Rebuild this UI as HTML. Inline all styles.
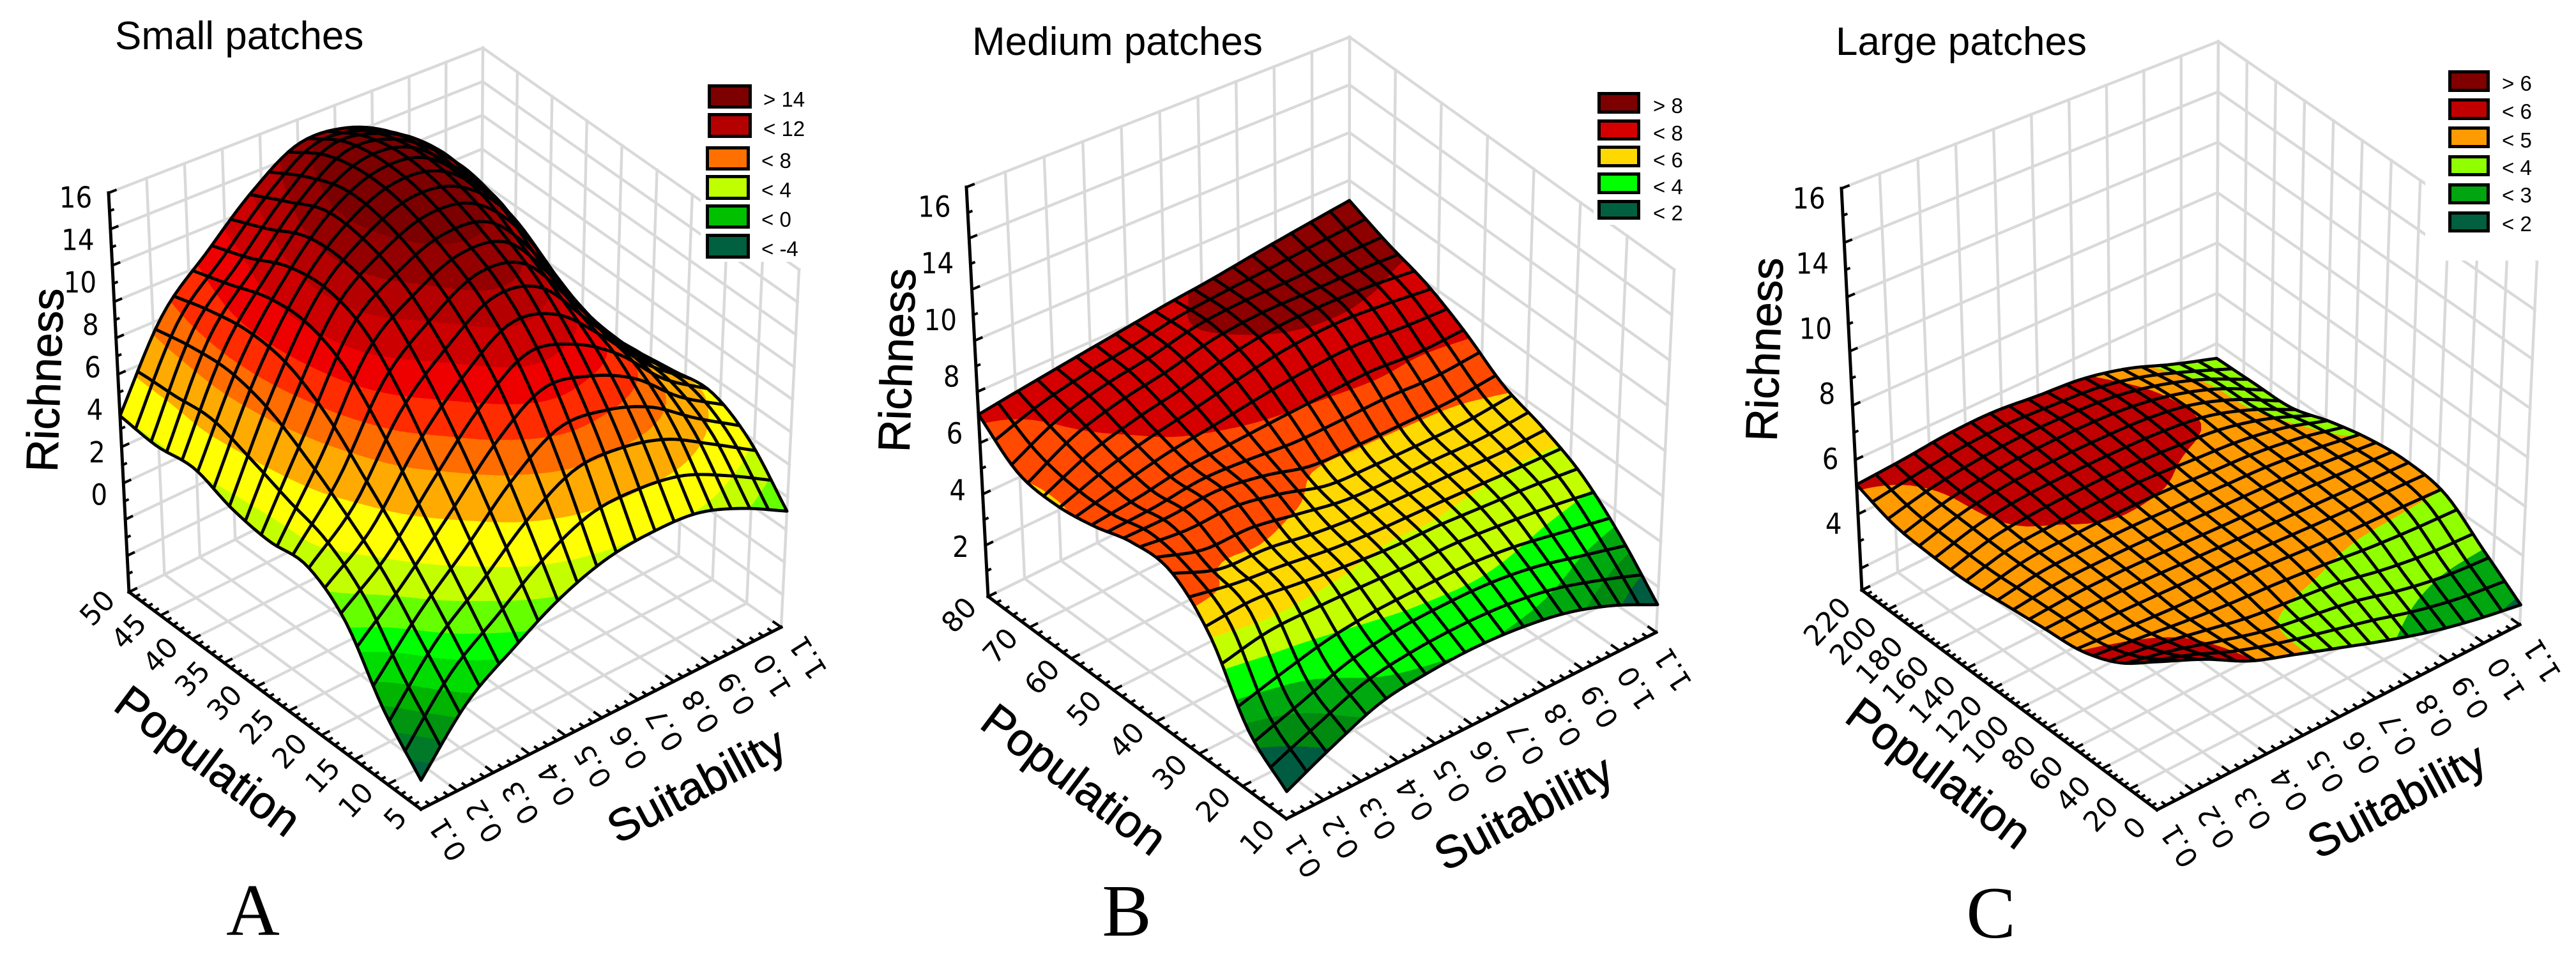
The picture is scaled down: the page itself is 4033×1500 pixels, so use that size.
<!DOCTYPE html>
<html lang="en">
<head>
<meta charset="utf-8">
<title>Richness surfaces by patch size</title>
<style>
html,body{margin:0;padding:0;background:#fff;width:4033px;height:1500px;overflow:hidden}
svg{display:block}
.title{font-family:"Liberation Sans",sans-serif;font-size:62px;fill:#000}
.axt{font-family:"Liberation Sans",sans-serif;font-size:72px;fill:#000;text-anchor:middle;stroke:#000;stroke-width:.8}
.leg{font-family:"Liberation Sans",sans-serif;font-size:33px;fill:#000}
.let{font-family:"Liberation Serif",serif;font-size:116px;fill:#000;text-anchor:middle}
.sw{stroke:#000;stroke-width:5}
</style>
</head>
<body>
<svg id="chart" xmlns="http://www.w3.org/2000/svg" width="4033" height="1500" viewBox="0 0 4033 1500">
<rect width="4033" height="1500" fill="#fff"/>
<g id="panelA"></g>
<g id="panelB"></g>
<g id="panelC"></g>

<text class="title" x="180" y="77">Small patches</text>
<text class="title" x="1522" y="86">Medium patches</text>
<text class="title" x="2874" y="86">Large patches</text>

<text class="axt" transform="translate(70,595) rotate(-88)" dy=".35em" style="font-size:70px">Richness</text>
<text class="axt" transform="translate(326,1191) rotate(36.7)" dy=".35em">Population</text>
<text class="axt" transform="translate(1090,1229) rotate(-28)" dy=".35em" style="font-size:71px">Suitability</text>
<text class="axt" transform="translate(1404,564) rotate(-88)" dy=".35em" style="font-size:70px">Richness</text>
<text class="axt" transform="translate(1682,1220) rotate(37)" dy=".35em">Population</text>
<text class="axt" transform="translate(2385,1272) rotate(-28)" dy=".35em" style="font-size:71px">Suitability</text>
<text class="axt" transform="translate(2762,547) rotate(-88)" dy=".35em" style="font-size:70px">Richness</text>
<text class="axt" transform="translate(3036,1210) rotate(37)" dy=".35em">Population</text>
<text class="axt" transform="translate(3752,1253) rotate(-28)" dy=".35em" style="font-size:71px">Suitability</text>

<g>
<rect x="1097" y="100" width="205" height="310" fill="#fff"/>
<rect class="sw" x="1110.5" y="134.5" width="64" height="33" fill="#7c0000"/>
<rect class="sw" x="1110.5" y="179.5" width="64" height="34" fill="#b40000"/>
<rect class="sw" x="1107.5" y="231.5" width="64" height="33" fill="#ff7000"/>
<rect class="sw" x="1107.5" y="276.5" width="64" height="34" fill="#c0ff00"/>
<rect class="sw" x="1107.5" y="322.5" width="64" height="33" fill="#00c000"/>
<rect class="sw" x="1107.5" y="368.5" width="64" height="34" fill="#006040"/>
<text class="leg" x="1195" y="167">&gt; 14</text>
<text class="leg" x="1195" y="213">&lt; 12</text>
<text class="leg" x="1192" y="263">&lt; 8</text>
<text class="leg" x="1192" y="309">&lt; 4</text>
<text class="leg" x="1192" y="355">&lt; 0</text>
<text class="leg" x="1192" y="401">&lt; -4</text>
</g>

<g>
<rect x="2495" y="110" width="165" height="242" fill="#fff"/>
<rect class="sw" x="2503.5" y="146.5" width="62" height="29" fill="#7c0000"/>
<rect class="sw" x="2503.5" y="189.5" width="62" height="28" fill="#d40000"/>
<rect class="sw" x="2503.5" y="230.5" width="62" height="29" fill="#ffd800"/>
<rect class="sw" x="2503.5" y="272.5" width="62" height="29" fill="#00ff00"/>
<rect class="sw" x="2503.5" y="315.5" width="62" height="26" fill="#006040"/>
<text class="leg" x="2588" y="177">&gt; 8</text>
<text class="leg" x="2588" y="220">&lt; 8</text>
<text class="leg" x="2588" y="262">&lt; 6</text>
<text class="leg" x="2588" y="304">&lt; 4</text>
<text class="leg" x="2588" y="345">&lt; 2</text>
</g>

<g>
<rect x="3797" y="0" width="236" height="408" fill="#fff"/>
<rect class="sw" x="3835.5" y="112.5" width="60" height="29" fill="#800000"/>
<rect class="sw" x="3835.5" y="156.5" width="60" height="29" fill="#c00000"/>
<rect class="sw" x="3835.5" y="200.5" width="60" height="29" fill="#ff9a00"/>
<rect class="sw" x="3835.5" y="245.5" width="60" height="28" fill="#90ff00"/>
<rect class="sw" x="3835.5" y="289.5" width="60" height="28" fill="#00a510"/>
<rect class="sw" x="3835.5" y="333.5" width="60" height="28" fill="#006040"/>
<text class="leg" x="3917" y="142">&gt; 6</text>
<text class="leg" x="3917" y="186">&lt; 6</text>
<text class="leg" x="3917" y="231">&lt; 5</text>
<text class="leg" x="3917" y="274">&lt; 4</text>
<text class="leg" x="3917" y="317">&lt; 3</text>
<text class="leg" x="3917" y="362">&lt; 2</text>
</g>

<text class="let" x="396" y="1464">A</text>
<text class="let" x="1764" y="1465">B</text>
<text class="let" x="3117" y="1468">C</text>
</svg>

<script>
/* ---------- chart data ---------- */
const suitabilityTicks = [0.1,0.2,0.3,0.4,0.5,0.6,0.7,0.8,0.9,1.0,1.1];

const smallPopulationTicks = [5,10,15,20,25,30,35,40,45,50];
const mediumPopulationTicks = [10,20,30,40,50,60,70,80];
const largePopulationTicks = [0,20,40,60,80,100,120,140,160,180,200,220];

/* plotted height of each printed richness label (the printed axis skips 12) */
const smallRichnessTickValues = [14,12,10,8,6,4,2,0];
const smallRichnessTickLabels = ["16","14","10","8","6","4","2","0"];
const mediumRichnessTickValues = [14,12,10,8,6,4,2];
const mediumRichnessTickLabels = ["16","14","10","8","6","4","2"];
const largeRichnessTickValues = [14,12,10,8,6,4];
const largeRichnessTickLabels = ["16","14","10","8","6","4"];

/* richness at 9 x 9 sampled surface positions.
   rows: population low -> high, columns: suitability low -> high */
const smallRichness = [
 [-3.2,-0.5, 1.1, 2.5, 3.4, 3.7, 3.6, 2.75,1.5],
 [-1.1, 1.6, 3.6, 5.8, 7.3, 7.3, 6.6, 5.2, 3.76],
 [ 1.8, 3.6, 6.2, 8.8,10.5,10.0, 8.6, 6.4, 4.87],
 [ 3.1, 5.2, 8.8,11.0,12.5,12.0, 9.4, 6.7, 4.6],
 [ 2.95,6.7,10.8,12.6,13.6,13.2,10.5, 6.9, 4.28],
 [ 3.2, 7.8,11.5,13.4,14.4,14.0,11.9, 8.0, 4.05],
 [ 3.8, 8.2,11.2,13.5,14.6,14.3,12.2, 9.3, 4.97],
 [ 3.55,8.0,10.3,12.6,14.2,13.9,12.5, 9.9, 5.9],
 [ 3.7, 7.5, 9.6,11.6,13.0,12.9,11.8, 9.7, 6.9]
];
const mediumRichness = [
 [1.24,2.1,2.84,3.1,3.2,3.1,2.8,2.2,1.34],
 [2.44,3.0,3.6,3.9,4.0,4.0,3.8,3.4,3.0],
 [4.87,5.1,4.95,4.8,4.7,4.7,4.6,4.5,4.3],
 [6.14,5.5,5.45,5.2,5.05,5.0,5.0,4.95,5.05],
 [6.14,6.1,6.2,5.9,5.4,5.35,5.35,5.4,5.6],
 [5.7,5.9,6.2,6.3,6.4,6.5,6.6,6.5,6.6],
 [5.45,6.1,6.55,6.9,7.3,7.6,7.7,7.6,7.4],
 [5.6,6.5,7.0,7.3,7.7,7.85,7.85,7.9,7.9],
 [6.66,6.9,7.13,7.36,7.6,7.8,8.05,8.28,8.5]
];
const largeRichness = [
 [6.56,5.95,5.2,4.7,4.2,3.7,3.25,2.9,2.63],
 [5.65,5.4,5.05,4.7,4.5,4.3,3.95,3.7,3.6],
 [5.15,5.05,4.95,4.9,4.85,4.75,4.65,4.6,4.55],
 [5.0,5.05,5.05,5.0,4.95,4.9,4.85,4.8,4.75],
 [4.85,5.05,5.1,5.1,5.05,5.0,4.95,4.8,4.62],
 [4.7,5.05,5.15,5.2,5.2,5.1,5.0,4.75,4.3],
 [4.7,5.1,5.3,5.35,5.35,5.3,5.1,4.6,3.88],
 [4.8,5.15,5.35,5.45,5.45,5.35,5.05,4.55,3.83],
 [5.2,5.3,5.44,5.47,5.33,5.2,4.85,4.3,3.8]
];

/* colour bands: upper limit of each band, then its colour */
const smallBandLimits = [-2.6,-1.8,-1.0,-0.2,0.8,1.6,2.6,3.7,5.2,6.8,8.0,9.2,10.4,11.6,12.6,13.6,99];
const smallBandColors = ["#006640","#007a28","#009410","#00b400","#00dc00","#00ff00","#66ff00","#c4ff00","#ffff00","#ffaa00","#ff6c00","#ff2c00","#ee0000","#cc0000","#b40000","#940000","#7c0000"];
const mediumBandLimits = [2.05,2.6,3.2,4.0,4.8,5.5,6.5,7.7,99];
const mediumBandColors = ["#005c40","#008a10","#00a810","#00ff00","#c4ff00","#ffd800","#ff4a00","#d40000","#8c0000"];
const largeBandLimits = [2.75,3.6,4.6,5.15,99];
const largeBandColors = ["#006040","#00a510","#90ff00","#ff9a00","#c00000"];

/* ---------- drawing ---------- */
const NS = "http://www.w3.org/2000/svg";
const panels = [
 {id:"panelA",name:"small",grid:smallRichness,limits:smallBandLimits,colors:smallBandColors,popTicks:smallPopulationTicks,
  zVals:smallRichnessTickValues,zLabels:smallRichnessTickLabels,zMin:-4.6,zMax:14.2,zSteps:11,cellsU:19,cellsV:19,
  floor:[[659,1267],[1223,982],[752,655],[202,927]],top:[[662,660],[1251,422],[756,75],[170,302]],
  popOff:[-31,4],suitOff:[23,18]},
 {id:"panelB",name:"medium",grid:mediumRichness,limits:mediumBandLimits,colors:mediumBandColors,popTicks:mediumPopulationTicks,
  zVals:mediumRichnessTickValues,zLabels:mediumRichnessTickLabels,zMin:0.24,zMax:14.68,zSteps:8,cellsU:19,cellsV:19,
  floor:[[2014,1282],[2593,990],[2112,656],[1547,934]],top:[[2021,667],[2621,422],[2113,58],[1513,293]],
  popOff:[-27,8],suitOff:[7,29]},
 {id:"panelC",name:"large",grid:largeRichness,limits:largeBandLimits,colors:largeBandColors,popTicks:largePopulationTicks,
  zVals:largeRichnessTickValues,zLabels:largeRichnessTickLabels,zMin:1.96,zMax:14.3,zSteps:7.4,cellsU:19,cellsV:19,
  floor:[[3377,1268],[3945,978],[3470,648],[2915,924]],top:[[3383,646],[3972,408],[3473,65],[2883,295]],
  popOff:[-26,18],suitOff:[16,27]}
];

function quadMap(q){
  const [p0,p1,p2,p3]=q;
  const sx=p0[0]-p1[0]+p2[0]-p3[0], sy=p0[1]-p1[1]+p2[1]-p3[1];
  const dx1=p1[0]-p2[0], dx2=p3[0]-p2[0], dy1=p1[1]-p2[1], dy2=p3[1]-p2[1];
  const den=dx1*dy2-dx2*dy1;
  const g=(sx*dy2-dx2*sy)/den, h=(dx1*sy-sx*dy1)/den;
  const a=p1[0]-p0[0]+g*p1[0], b=p3[0]-p0[0]+h*p3[0], c=p0[0];
  const d=p1[1]-p0[1]+g*p1[1], e=p3[1]-p0[1]+h*p3[1], f=p0[1];
  return (u,v)=>{const w=g*u+h*v+1;return [(a*u+b*v+c)/w,(d*u+e*v+f)/w];};
}
function cr(p0,p1,p2,p3,t){
  return 0.5*(2*p1+(p2-p0)*t+(2*p0-5*p1+4*p2-p3)*t*t+(3*p1-p0-3*p2+p3)*t*t*t);
}
function gridAt(G,i,j){
  const n=G.length-1,m=G[0].length-1;
  const ci=Math.max(0,Math.min(m,i)),cj=Math.max(0,Math.min(n,j));
  let val=G[cj][ci];
  if(i<0) val=2*G[cj][0]-G[cj][1];
  if(i>m) val=2*G[cj][m]-G[cj][m-1];
  if(j<0) val=2*G[0][ci]-G[1][ci];
  if(j>n) val=2*G[n][ci]-G[n-1][ci];
  return val;
}
function surfaceZ(G,u,v){
  const m=G[0].length-1,n=G.length-1;
  const fu=Math.min(u*m,m-1e-6),fv=Math.min(v*n,n-1e-6);
  const i=Math.floor(fu),j=Math.floor(fv),tu=fu-i,tv=fv-j;
  const rows=[];
  for(let b=-1;b<=2;b++){
    rows.push(cr(gridAt(G,i-1,j+b),gridAt(G,i,j+b),gridAt(G,i+1,j+b),gridAt(G,i+2,j+b),tu));
  }
  return cr(rows[0],rows[1],rows[2],rows[3],tv);
}
function clipZ(poly,level,keepAbove){
  const out=[];
  for(let i=0;i<poly.length;i++){
    const a=poly[i],b=poly[(i+1)%poly.length];
    const ina=keepAbove?a[2]>=level:a[2]<=level;
    const inb=keepAbove?b[2]>=level:b[2]<=level;
    if(ina) out.push(a);
    if(ina!==inb){
      const t=(level-a[2])/(b[2]-a[2]);
      out.push([a[0]+(b[0]-a[0])*t,a[1]+(b[1]-a[1])*t,level]);
    }
  }
  return out;
}
function line(parent,a,b,color,width){
  const l=document.createElementNS(NS,"line");
  l.setAttribute("x1",a[0].toFixed(1));
  l.setAttribute("y1",a[1].toFixed(1));
  l.setAttribute("x2",b[0].toFixed(1));
  l.setAttribute("y2",b[1].toFixed(1));
  l.setAttribute("stroke",color);
  l.setAttribute("stroke-width",width);
  l.setAttribute("stroke-linecap","square");
  parent.appendChild(l);
  return l;
}
function label(parent,txt,x,y,rot,size,sx){
  const t=document.createElementNS(NS,"text");
  t.textContent=txt;
  t.setAttribute("transform","translate("+x.toFixed(1)+","+y.toFixed(1)+") rotate("+rot+") scale("+sx+",1)");
  t.setAttribute("text-anchor","end");
  t.setAttribute("dy",".36em");
  t.setAttribute("font-family",'"DejaVu Sans",sans-serif');
  t.setAttribute("font-size",size);
  t.setAttribute("fill","#000");
  parent.appendChild(t);
  return t;
}
function drawPanel(p){
  const root=document.getElementById(p.id);
  const fl=quadMap(p.floor), tp=quadMap(p.top);
  const wOf=z=>(z-p.zMin)/(p.zMax-p.zMin);
  const proj=(u,v,w)=>{const a=fl(u,v),b=tp(u,v);return [a[0]+(b[0]-a[0])*w,a[1]+(b[1]-a[1])*w];};
  const popMin=p.popTicks[0],popMax=p.popTicks[p.popTicks.length-1];
  const uOf=s=>(s-suitabilityTicks[0])/(suitabilityTicks[suitabilityTicks.length-1]-suitabilityTicks[0]);
  const vOf=q=>(q-popMin)/(popMax-popMin);
  const GR="#d9d9d9",GW=4.4;

  /* grid walls and floor */
  const walls=document.createElementNS(NS,"g");
  
  
  root.appendChild(walls);
  const zFracs=[];
  for(let k=0;k<=Math.floor(p.zSteps);k++) zFracs.push(1-k/p.zSteps);
  if(zFracs[zFracs.length-1]>0.001) zFracs.push(0);
  zFracs.forEach(w=>{
    line(walls,proj(0,1,w),proj(1,1,w),GR,GW);
    line(walls,proj(1,1,w),proj(1,0,w),GR,GW);
  });
  suitabilityTicks.forEach(s=>{
    const u=uOf(s);
    line(walls,proj(u,1,0),proj(u,1,1),GR,GW);
    line(walls,proj(u,0,0),proj(u,1,0),GR,GW);
  });
  p.popTicks.forEach(q=>{
    const v=vOf(q);
    line(walls,proj(1,v,0),proj(1,v,1),GR,GW);
    line(walls,proj(0,v,0),proj(1,v,0),GR,GW);
  });

  /* axes */
  const axes=document.createElementNS(NS,"g");
  
  
  root.appendChild(axes);
  line(axes,proj(0,1,0),proj(0,1,1),"#000",5);
  line(axes,proj(0,1,0),proj(0,0,0),"#000",5);
  line(axes,proj(0,0,0),proj(1,0,0),"#000",5);
  zFracs.forEach((w,k)=>{
    line(axes,proj(0,1,w),proj(0.018,1,w),"#000",4);
    const w2=w-0.5/p.zSteps;
    if(w2>0) line(axes,proj(0,1,w2),proj(0.009,1,w2),"#000",4);
  });
  p.popTicks.forEach((q,i)=>{
    const v=vOf(q);
    line(axes,proj(0,v,0),proj(0.02,v,0),"#000",4);
    if(i<p.popTicks.length-1){
      const dv=(vOf(p.popTicks[i+1])-v)/5;
      for(let m=1;m<5;m++) line(axes,proj(0,v+m*dv,0),proj(0.01,v+m*dv,0),"#000",4);
    }
  });
  suitabilityTicks.forEach((s,i)=>{
    const u=uOf(s);
    line(axes,proj(u,0,0),proj(u,0.024,0),"#000",4);
    if(i<suitabilityTicks.length-1){
      const du=(uOf(suitabilityTicks[i+1])-u)/4;
      for(let m=1;m<4;m++) line(axes,proj(u+m*du,0,0),proj(u+m*du,0.012,0),"#000",4);
    }
  });

  /* tick labels */
  const labs=document.createElementNS(NS,"g");
  
  
  root.appendChild(labs);
  p.zVals.forEach((z,i)=>{
    const a=proj(0,1,wOf(z));
    const t=label(labs,p.zLabels[i],a[0]-26,a[1],0,45,0.9);
    
    
  });
  p.popTicks.forEach(q=>{
    const a=proj(0,vOf(q),0);
    const t=label(labs,String(q),a[0]+p.popOff[0],a[1]+p.popOff[1],-47,44,1);
    
    
  });
  suitabilityTicks.forEach(s=>{
    const a=proj(uOf(s),0,0);
    const t=label(labs,s.toFixed(1),a[0]+p.suitOff[0],a[1]+p.suitOff[1],-122,44,1);
    
    
  });

  /* surface: painted far corner to near corner */
  const surf=document.createElementNS(NS,"g");
  
  
  root.appendChild(surf);
  const K=3,NU=p.cellsU*K,NV=p.cellsV*K,pts=[];
  for(let j=0;j<=NV;j++){
    const row=[];
    for(let i=0;i<=NU;i++){
      const u=i/NU,v=j/NV,z=surfaceZ(p.grid,u,v),a=proj(u,v,wOf(z));
      row.push([a[0],a[1],z]);
    }
    pts.push(row);
  }
  for(let cv=p.cellsV-1;cv>=0;cv--){
    for(let cu=p.cellsU-1;cu>=0;cu--){
      const cell=document.createElementNS(NS,"g");
      
      
      const bandPaths={};
      for(let sj=K-1;sj>=0;sj--){
        for(let si=K-1;si>=0;si--){
          const i=cu*K+si,j=cv*K+sj;
          const q=[pts[j][i],pts[j][i+1],pts[j+1][i+1],pts[j+1][i]];
          const zs=q.map(r=>r[2]),lo=Math.min(...zs),hi=Math.max(...zs);
          let low=-Infinity;
          for(let b=0;b<p.limits.length;b++){
            const high=p.limits[b];
            if(hi>=low&&lo<=high){
              let poly=q;
              if(low>-Infinity) poly=clipZ(poly,low,true);
              if(poly.length>2&&b<p.limits.length-1) poly=clipZ(poly,high,false);
              if(poly.length>2){
                bandPaths[b]=(bandPaths[b]||"")+"M"+poly.map(r=>r[0].toFixed(1)+" "+r[1].toFixed(1)).join("L")+"Z";
              }
            }
            low=high;
          }
        }
      }
      Object.keys(bandPaths).forEach(b=>{
        const f=document.createElementNS(NS,"path");
        f.setAttribute("d",bandPaths[b]);
        f.setAttribute("fill",p.colors[b]);
        f.setAttribute("stroke",p.colors[b]);
        f.setAttribute("stroke-width","0.8");
        cell.appendChild(f);
      });
      const ring=[];
      const i0=cu*K,j0=cv*K;
      for(let s=0;s<K;s++) ring.push(pts[j0][i0+s]);
      for(let s=0;s<K;s++) ring.push(pts[j0+s][i0+K]);
      for(let s=0;s<K;s++) ring.push(pts[j0+K][i0+K-s]);
      for(let s=0;s<K;s++) ring.push(pts[j0+K-s][i0]);
      const o=document.createElementNS(NS,"path");
      o.setAttribute("d","M"+ring.map(r=>r[0].toFixed(1)+" "+r[1].toFixed(1)).join("L")+"Z");
      o.setAttribute("fill","none");
      o.setAttribute("stroke","#000");
      o.setAttribute("stroke-width","4.8");
      o.setAttribute("stroke-linejoin","round");
      cell.appendChild(o);
      surf.appendChild(cell);
    }
  }
}
panels.forEach(drawPanel);
</script>
</body>
</html>
